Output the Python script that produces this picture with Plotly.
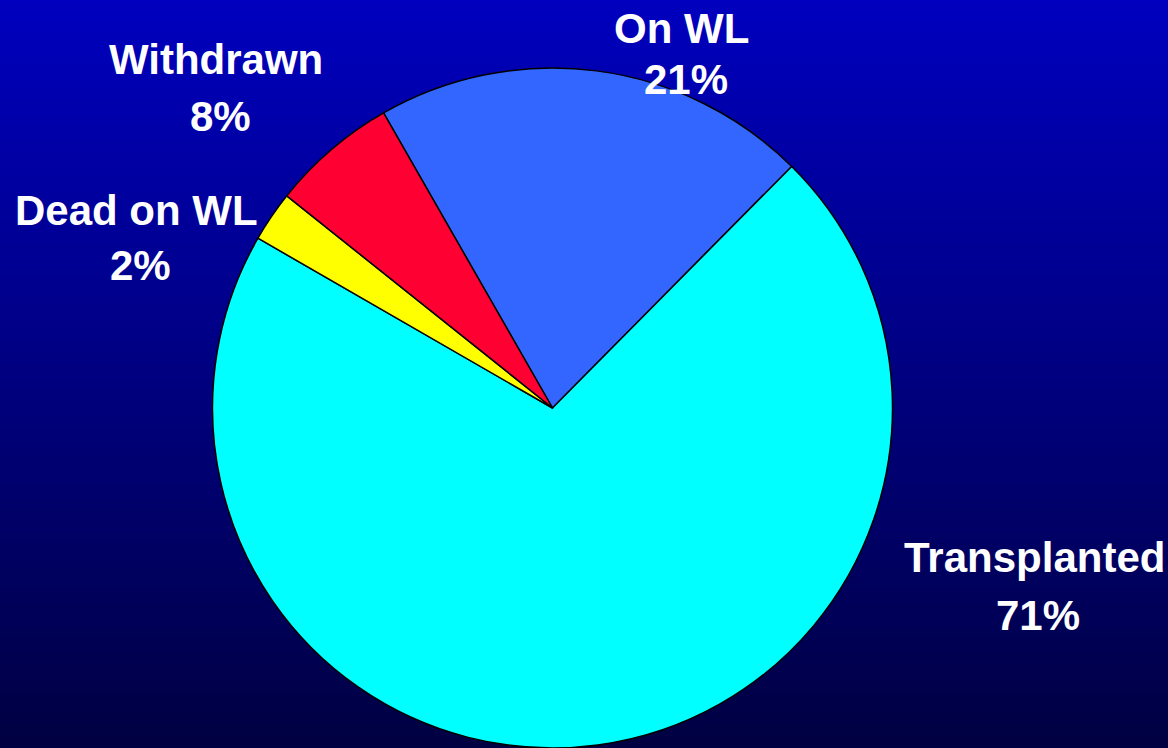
import plotly.graph_objects as go

# slice data, in drawing order (clockwise from the On WL slice)
categories = ["On WL", "Transplanted", "Dead on WL", "Withdrawn"]
shares = [20.7, 70.9, 2.4, 6.0]
label_pct = ["21%", "71%", "2%", "8%"]
slice_colors = ["#3366FF", "#00FFFF", "#FFFF00", "#FF0033"]

W, H = 1168, 748

fig = go.Figure()

fig.add_trace(go.Pie(labels=categories, values=shares, sort=False, direction="clockwise",
                     rotation=-29.8, marker=dict(colors=slice_colors, line=dict(color="black", width=1.5)),
                     textinfo="none", hoverinfo="label+percent", showlegend=False,
                     domain=dict(x=[212 / W, 893 / W], y=[0, 1 - 68 / H])))

# background gradient: bright blue at top to dark navy at the bottom
shapes = []
n = 150
top = (0, 0, 190)
bottom = (0, 0, 66)
for i in range(n):
    f = i / (n - 1)
    c = tuple(round(top[k] + (bottom[k] - top[k]) * f) for k in range(3))
    shapes.append(dict(type="rect", xref="paper", yref="paper", x0=0, x1=1,
                       y0=1 - (i + 1) / n - 0.001, y1=1 - i / n, line=dict(width=0),
                       fillcolor="rgb(%d,%d,%d)" % c, layer="below"))

# outside labels: name line and percent line
label_pos = {
    "On WL": ((682, 28), (686, 80)),
    "Transplanted": ((1034, 557), (1038, 615)),
    "Dead on WL": ((136, 210), (140, 265)),
    "Withdrawn": ((216, 60), (220, 117)),
}
annotations = []
for name, pct in zip(categories, label_pct):
    (nx, ny), (px, py) = label_pos[name]
    for txt, x, y in [(name, nx, ny), (pct, px, py)]:
        annotations.append(dict(text="<b>%s</b>" % txt, x=x / W, y=1 - y / H, xref="paper", yref="paper",
                                xanchor="center", yanchor="middle", showarrow=False,
                                font=dict(family="Liberation Sans, Arial", size=42, color="white")))

fig.update_layout(width=W, height=H, margin=dict(l=0, r=0, t=0, b=0),
                  paper_bgcolor="#000080", plot_bgcolor="rgba(0,0,0,0)",
                  shapes=shapes, annotations=annotations)

fig.write_html("out.html", config={"displayModeBar": False},
               post_script="document.body.style.margin='0';")
